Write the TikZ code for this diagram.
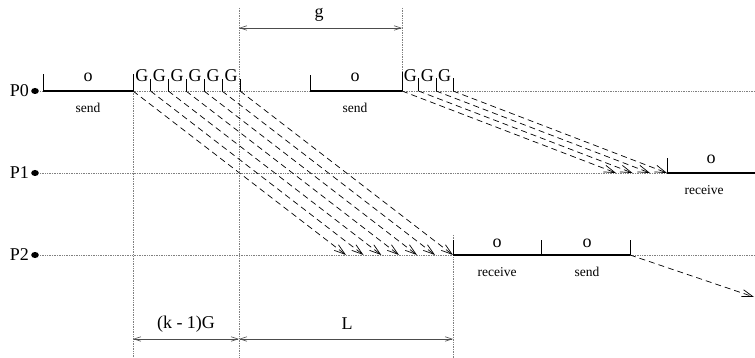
\documentclass[tikz,border=0pt]{standalone}
\usepackage{fontspec}
\setmainfont{Liberation Serif}
\usetikzlibrary{arrows.meta,calc}
\tikzset{
  grid/.style={gray, densely dotted, line width=0.7pt},
  busy/.style={line width=2.6pt},
  tick/.style={line width=0.8pt},
  msg/.style={dashed, dash pattern=on 6pt off 4pt, line width=0.7pt, -{Straight Barb[length=11pt,width=7pt]}},
  dim/.style={line width=0.6pt, gray!60!black, {Straight Barb[length=7pt,width=4.5pt]}-{Straight Barb[length=7pt,width=4.5pt]}},
  big/.style={font=\fontsize{18}{20}\selectfont, inner sep=0pt},
  small/.style={font=\fontsize{13.5}{15}\selectfont, inner sep=0pt},
}
\begin{document}
\begin{tikzpicture}[x=1pt,y=-1pt]
\useasboundingbox (0,0) rectangle (755,358);
% process labels and dots
\foreach \n/\y in {0/91,1/173,2/255}{
  \node[big, anchor=east] (lab\n) at (29,\y) {P\n};
  \fill (35,\y) ellipse [x radius=3.8pt, y radius=3pt];
  \coordinate (dot\n) at (40,\y);
}
% horizontal grid lines
\draw[grid] (dot0) -- (755,91);
\draw[grid] (dot1) -- (667,173);
\draw[grid] (dot2) -- (755,255);
% vertical grid lines
\draw[grid] (133,91) -- (133,358);
\draw[grid] (239,8) -- (239,358);
\draw[grid] (402,8) -- (402,91);
\draw[grid] (453,235) -- (453,358);

% first send on P0
\draw[busy] (43,91) -- (133,91);
\draw[tick] (43,91) -- (43,74);
\draw[tick] (133,91) -- (133,74);
\node[big] (o1) at (88,77) {o};
\node[small] (send1) at (88,108) {send};
% G gaps, first group
\foreach \i/\x in {1/133,2/150.5,3/168.3,4/186,5/204,6/222,7/240}{
  \coordinate (s\i) at (\x,91);
  \coordinate (r\i) at (\x+213,255);
}
\foreach \i in {2,...,7}{ \draw[tick] (s\i) -- ++(0,-12); }
\foreach \a/\b in {1/2,2/3,3/4,4/5,5/6,6/7}{
  \node[big] (G\a) at ($(s\a)!0.5!(s\b)+(0,-15)$) {G};
}
\foreach \i in {1,...,7}{ \draw[msg] (s\i) -- (r\i); }

% second send on P0
\draw[busy] (310,91) -- (402,91);
\draw[tick] (310,91) -- (310,75);
\draw[tick] (402,91) -- (402,72);
\node[big] (o2) at (355,77) {o};
\node[small] (send2) at (355,108) {send};
\foreach \i/\x in {1/402,2/418.5,3/436,4/453}{
  \coordinate (t\i) at (\x,91);
  \coordinate (u\i) at (\x+214,173);
}
\foreach \i in {2,3,4}{ \draw[tick] (t\i) -- ++(0,-13); }
\foreach \a/\b in {1/2,2/3,3/4}{
  \node[big] (H\a) at ($(t\a)!0.5!(t\b)+(0,-15)$) {G};
}
\foreach \i in {1,...,4}{ \draw[msg] (t\i) -- (u\i); }

% receive on P1
\draw[busy] (667,173) -- (755,173);
\draw[tick] (667,173) -- (667,158);
\node[big] (o3) at (711,159) {o};
\node[small] (recv1) at (704,190) {receive};

% receive and send on P2
\coordinate (a) at (453,255);
\coordinate (b) at (541.5,255);
\coordinate (c) at (630,255);
\draw[busy] (a) -- (c);
\draw[tick] (a) -- ++(0,-15);
\draw[tick] (b) -- ++(0,-15);
\draw[tick] (c) -- ++(0,-15);
\node[big] (o4) at (497,243) {o};
\node[big] (o5) at (587,243) {o};
\node[small] (recv2) at (497,272) {receive};
\node[small] (send3) at (587,272) {send};
\coordinate (out) at (754,297);
\draw[msg] (c) -- (out);

% dimensions
\coordinate (g1) at (239,28);
\coordinate (g2) at (402,28);
\draw[dim] (g1) -- (g2);
\node[big] (glab) at (319,15) {g};
\coordinate (k1) at (133,339);
\coordinate (k2) at (239,339);
\coordinate (k3) at (453,339);
\draw[dim] (k1) -- (k2);
\draw[dim] (k2) -- (k3);
\node[big] (klab) at (186,324) {(k - 1)G};
\node[big] (llab) at (347,324) {L};
\end{tikzpicture}
\end{document}
